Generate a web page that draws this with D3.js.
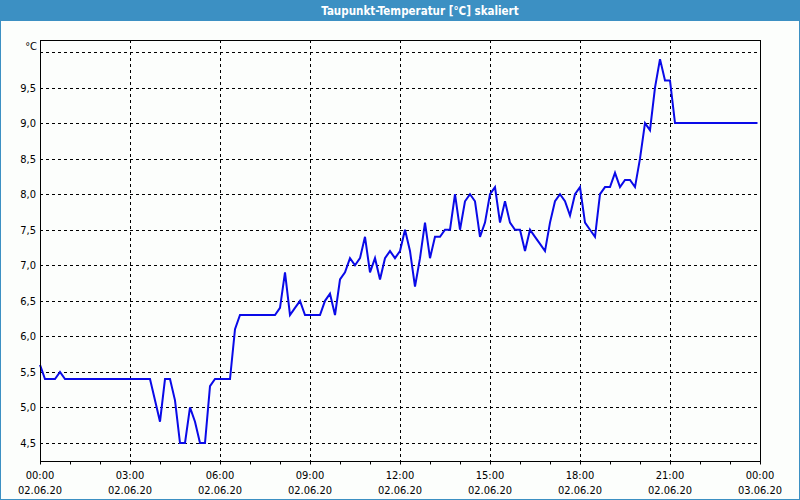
<!DOCTYPE html>
<html>
<head>
<meta charset="utf-8">
<script src="https://cdn.jsdelivr.net/npm/d3@7/dist/d3.min.js"></script>
<style>
  html, body { margin: 0; padding: 0; background: #fcfefc; }
  svg { display: block; }
  text { font-family: "DejaVu Sans Condensed", "DejaVu Sans", sans-serif; font-stretch: condensed; }
</style>
</head>
<body>
<svg id="chart" width="800" height="500"></svg>
<script>
// ---- data ----
const title = "Taupunkt-Temperatur [°C] skaliert";
const unitLabel = "°C";
const startTime = "2020-06-02T00:00";
const endTime = "2020-06-03T00:00";
const stepMinutes = 10;
// dew point readings, one every 10 minutes from 00:00
const values = [
  5.6, 5.4, 5.4, 5.4, 5.5, 5.4, 5.4, 5.4, 5.4, 5.4,
  5.4, 5.4, 5.4, 5.4, 5.4, 5.4, 5.4, 5.4, 5.4, 5.4,
  5.4, 5.4, 5.4, 5.1, 4.8, 5.4, 5.4, 5.1, 4.5, 4.5,
  5.0, 4.8, 4.5, 4.5, 5.3, 5.4, 5.4, 5.4, 5.4, 6.1,
  6.3, 6.3, 6.3, 6.3, 6.3, 6.3, 6.3, 6.3, 6.4, 6.9,
  6.3, 6.4, 6.5, 6.3, 6.3, 6.3, 6.3, 6.5, 6.6, 6.3,
  6.8, 6.9, 7.1, 7.0, 7.1, 7.4, 6.9, 7.1, 6.8, 7.1,
  7.2, 7.1, 7.2, 7.5, 7.2, 6.7, 7.1, 7.6, 7.1, 7.4,
  7.4, 7.5, 7.5, 8.0, 7.5, 7.9, 8.0, 7.9, 7.4, 7.6,
  8.0, 8.1, 7.6, 7.9, 7.6, 7.5, 7.5, 7.2, 7.5, 7.4,
  7.3, 7.2, 7.6, 7.9, 8.0, 7.9, 7.7, 8.0, 8.1, 7.6,
  7.5, 7.4, 8.0, 8.1, 8.1, 8.3, 8.1, 8.2, 8.2, 8.1,
  8.5, 9.0, 8.9, 9.5, 9.9, 9.6, 9.6, 9.0, 9.0, 9.0,
  9.0, 9.0, 9.0, 9.0, 9.0, 9.0, 9.0, 9.0, 9.0, 9.0,
  9.0, 9.0, 9.0, 9.0
];
const lastTime = "2020-06-02T23:55";
const yTicks = [4.5, 5.0, 5.5, 6.0, 6.5, 7.0, 7.5, 8.0, 8.5, 9.0, 9.5, 10.0];
const yTickLabels = ["4,5", "5,0", "5,5", "6,0", "6,5", "7,0", "7,5", "8,0", "8,5", "9,0", "9,5", ""];
const xTickTimes = ["00:00", "03:00", "06:00", "09:00", "12:00", "15:00", "18:00", "21:00", "00:00"];
const xTickDates = ["02.06.20", "02.06.20", "02.06.20", "02.06.20", "02.06.20", "02.06.20", "02.06.20", "02.06.20", "03.06.20"];

// ---- layout ----
const W = 800, H = 500;
const plot = { left: 40, right: 760, top: 40, bottom: 461 };

const svg = d3.select("#chart");
const parse = d3.timeParse("%Y-%m-%dT%H:%M");
const t0 = parse(startTime), t1 = parse(endTime);

const points = values.map((v, i) => ({
  t: i === values.length - 1 ? parse(lastTime) : d3.timeMinute.offset(t0, i * stepMinutes),
  v
}));

const x = d3.scaleTime().domain([t0, t1]).range([plot.left, plot.right]);
const y = d3.scaleLinear().domain([4.5, 10.0]).range([443, 52]);

// background
svg.append("rect").attr("x", 0).attr("y", 0).attr("width", W).attr("height", H).attr("fill", "#fcfefc");

// title bar
svg.append("rect").attr("x", 0).attr("y", 0).attr("width", W).attr("height", 21).attr("fill", "#3c90c3");
svg.append("text").attr("x", 420).attr("y", 15).attr("text-anchor", "middle")
  .attr("fill", "#ffffff").attr("font-size", 11.5).attr("font-weight", "bold").text(title);

// outer frame
svg.append("rect").attr("x", 0.5).attr("y", 0.5).attr("width", W - 1).attr("height", H - 1)
  .attr("fill", "none").attr("stroke", "#3c90c3").attr("stroke-width", 1);

// grid: horizontal
const g = svg.append("g");
g.selectAll("line.hg").data(yTicks).enter().append("line")
  .attr("x1", plot.left).attr("x2", plot.right)
  .attr("y1", d => Math.round(y(d)) + 0.5).attr("y2", d => Math.round(y(d)) + 0.5)
  .attr("stroke", "#000").attr("stroke-width", 1).attr("stroke-dasharray", "3,3");

// grid: vertical (every 3h)
const majorTicks = d3.timeHour.every(3).range(t0, d3.timeMinute.offset(t1, 1));
g.selectAll("line.vg").data(majorTicks.slice(1, -1)).enter().append("line")
  .attr("x1", d => Math.round(x(d)) + 0.5).attr("x2", d => Math.round(x(d)) + 0.5)
  .attr("y1", plot.top).attr("y2", plot.bottom)
  .attr("stroke", "#000").attr("stroke-width", 1).attr("stroke-dasharray", "3,3");

// data line
const line = d3.line().x(d => x(d.t)).y(d => y(d.v));
svg.append("path").datum(points).attr("d", line)
  .attr("fill", "none").attr("stroke", "#0a0ae8").attr("stroke-width", 2)
  .attr("stroke-linejoin", "miter");

// plot frame
svg.append("rect").attr("x", plot.left + 0.5).attr("y", plot.top + 0.5)
  .attr("width", plot.right - plot.left).attr("height", plot.bottom - plot.top)
  .attr("fill", "none").attr("stroke", "#000").attr("stroke-width", 1);

// x axis ticks (every hour)
const hourTicks = d3.timeHour.every(1).range(t0, d3.timeMinute.offset(t1, 1));
svg.selectAll("line.xt").data(hourTicks).enter().append("line")
  .attr("x1", d => Math.round(x(d)) + 0.5).attr("x2", d => Math.round(x(d)) + 0.5)
  .attr("y1", plot.bottom).attr("y2", plot.bottom + 3.5)
  .attr("stroke", "#000").attr("stroke-width", 1);

// x labels
const xl = svg.append("g").attr("font-size", 11).attr("fill", "#000").attr("text-anchor", "middle");
majorTicks.forEach((d, i) => {
  xl.append("text").attr("x", x(d)).attr("y", 479).text(xTickTimes[i]);
  xl.append("text").attr("x", x(d)).attr("y", 494).text(xTickDates[i]);
});

// y labels
const yl = svg.append("g").attr("font-size", 11).attr("fill", "#000").attr("text-anchor", "end");
yTicks.forEach((d, i) => {
  if (yTickLabels[i]) yl.append("text").attr("x", 36).attr("y", y(d) + 4).text(yTickLabels[i]);
});
yl.append("text").attr("x", 37).attr("y", 50).text(unitLabel);
</script>
</body>
</html>
